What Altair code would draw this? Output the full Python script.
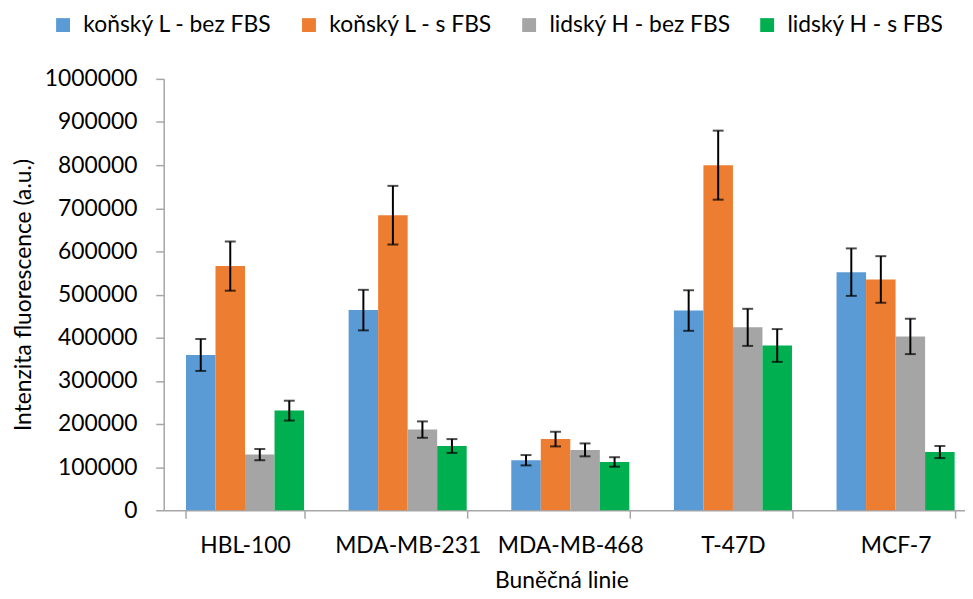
import altair as alt
import pandas as pd

cells = ["HBL-100", "MDA-MB-231", "MDA-MB-468", "T-47D", "MCF-7"]
series = ["koňský L - bez FBS", "koňský L - s FBS", "lidský H - bez FBS", "lidský H - s FBS"]
colors = ["#5B9BD5", "#ED7D31", "#A5A5A5", "#00B050"]

kon_bez = [360000, 464000, 116000, 463000, 552000]
kon_s = [566000, 684000, 165000, 800000, 535000]
lid_bez = [129000, 187000, 140000, 424000, 403000]
lid_s = [231000, 149000, 112000, 382000, 135000]

kon_bez_err = [37000, 47000, 12000, 47000, 55000]
kon_s_err = [57000, 68000, 17000, 80000, 54000]
lid_bez_err = [13000, 19000, 15000, 43000, 41000]
lid_s_err = [23000, 16000, 11000, 38000, 14000]

vals = [kon_bez, kon_s, lid_bez, lid_s]
errs = [kon_bez_err, kon_s_err, lid_bez_err, lid_s_err]

rows = []
for s, v, e in zip(series, vals, errs):
    for c, vv, ee in zip(cells, v, e):
        rows.append({"cell": c, "series": s, "value": vv, "lo": vv - ee, "hi": vv + ee})
df = pd.DataFrame(rows)

FONT = "Lato"
FS = 23

x = alt.X("cell:N", sort=cells,
          scale=alt.Scale(paddingInner=0.274, paddingOuter=0.137, range=[0, 820]),
          axis=alt.Axis(title="Buněčná linie", labelAngle=0, tickBand="extent",
                        tickSize=8, labelPadding=17, titlePadding=12,
                        titleX=401, titleAlign="center", titleAnchor="start"))
xo = alt.XOffset("series:N", sort=series, scale=alt.Scale(paddingInner=0, paddingOuter=0))
y = alt.Y("value:Q", scale=alt.Scale(domain=[0, 1000000], nice=False),
          axis=alt.Axis(title="Intenzita fluorescence (a.u.)", values=list(range(0, 1000001, 100000)),
                        format="d", tickSize=8, labelPadding=19, titlePadding=9, grid=False))

base = alt.Chart(df)

bars = base.mark_bar().encode(
    x=x, xOffset=xo, y=y,
    color=alt.Color("series:N", sort=series, scale=alt.Scale(domain=series, range=colors),
                    legend=alt.Legend(orient="none", legendX=-113, legendY=-66, direction="horizontal",
                                      title=None, symbolType="square", symbolSize=196,
                                      symbolStrokeWidth=0, labelFont=FONT, labelFontSize=FS,
                                      labelOffset=9, columnPadding=25, labelColor="black",
                                      labelLimit=0)),
)

rules = base.mark_rule(color="black", strokeWidth=2).encode(
    x=x, xOffset=xo, y=alt.Y("lo:Q"), y2="hi:Q")
cap_hi = base.mark_tick(color="black", thickness=2, size=11).encode(x=x, xOffset=xo, y=alt.Y("hi:Q"))
cap_lo = base.mark_tick(color="black", thickness=2, size=11).encode(x=x, xOffset=xo, y=alt.Y("lo:Q"))

chart = alt.layer(bars, rules, cap_hi, cap_lo).properties(
    width=808, height=435,
    autosize=alt.AutoSizeParams(type="none"),
    padding={"left": 157, "top": 69, "right": 0, "bottom": 87},
).configure_view(stroke=None).configure_axis(
    labelFont=FONT, labelFontSize=FS, labelColor="black",
    titleFont=FONT, titleFontSize=FS, titleFontWeight="normal", titleColor="black",
    domainColor="#A6A6A6", tickColor="#A6A6A6", domainWidth=1.5, tickWidth=1.5,
)

chart.save("out.html", embed_options={"renderer": "svg", "actions": False})
